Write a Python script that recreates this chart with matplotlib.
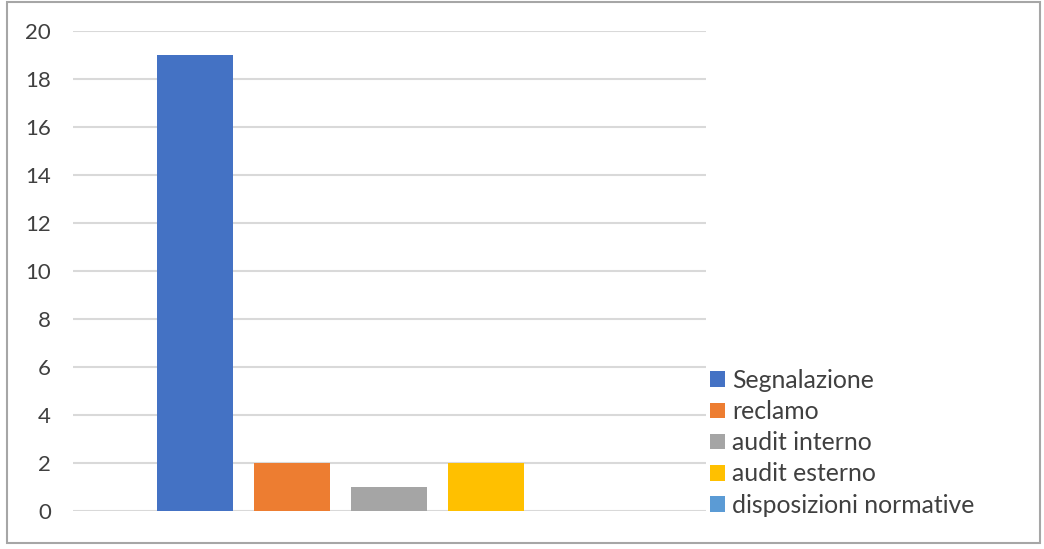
import matplotlib.pyplot as plt
from matplotlib.patches import Rectangle

# counts by source
labels = ["Segnalazione", "reclamo", "audit interno", "audit esterno", "disposizioni normative"]
values = [19, 2, 1, 2, 0]
colors = ["#4472C4", "#ED7D31", "#A5A5A5", "#FFC000", "#5B9BD5"]
yticks = [0, 2, 4, 6, 8, 10, 12, 14, 16, 18, 20]

plt.rcParams['font.family'] = ['Lato', 'DejaVu Sans']

fig = plt.figure(figsize=(10.44, 5.49), dpi=100)
ax = fig.add_axes([73 / 1044, 1 - 511 / 549, 633 / 1044, 480 / 549])

# outer chart frame
fig.patches.append(Rectangle((7 / 1044, 1 - 543 / 549), 1033 / 1044, 541 / 549,
                             transform=fig.transFigure, fill=False,
                             edgecolor="#A6A6A6", linewidth=1.5))

handles = []
for i, (lab, v, c) in enumerate(zip(labels, values, colors)):
    h = ax.bar(i, v, width=0.79, color=c, label=lab, zorder=2)
    handles.append(h)

ax.set_xlim(-1.26, 5.27)
ax.set_ylim(0, 20)
ax.set_yticks(yticks)
ax.set_xticks([])
ax.grid(axis="y", color="#D9D9D9", linewidth=1.5, zorder=0)
ax.set_axisbelow(True)
for s in ax.spines.values():
    s.set_visible(False)
ax.tick_params(axis="y", length=0, pad=16, labelsize=16, labelcolor="#404040")

leg = fig.legend(handles=handles, loc="upper left", bbox_to_anchor=(710 / 1044, 1 - 369 / 549),
                 frameon=False, fontsize=17.8, handlelength=0.6, handleheight=0.6,
                 handletextpad=0.3, labelspacing=0.33, borderaxespad=0, borderpad=0)
for t in leg.get_texts():
    t.set_color("#404040")

fig.savefig("out.png", dpi=100)
